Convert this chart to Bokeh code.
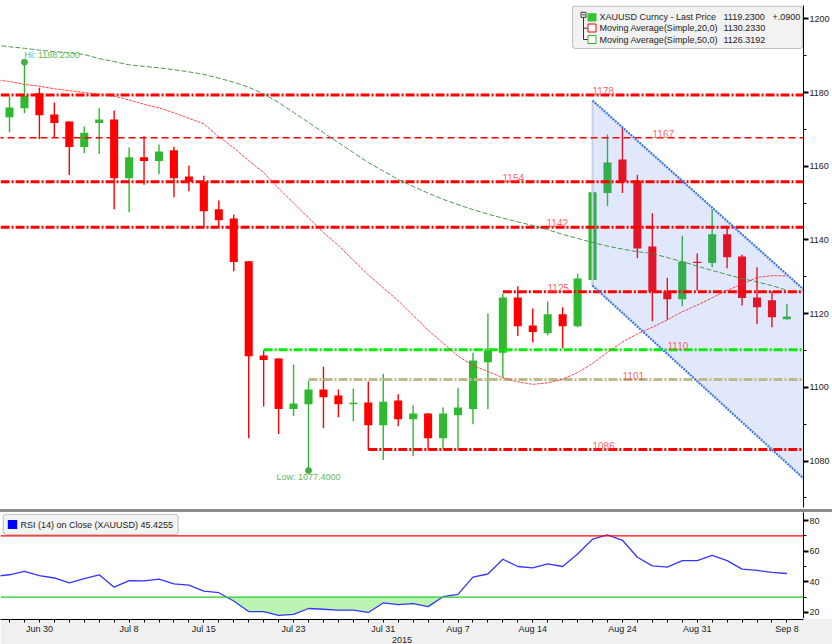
import numpy as np
from bokeh.plotting import figure
from bokeh.models import (Range1d, LinearAxis, FixedTicker, BoxAnnotation, Span, Div,
                          CustomJSTickFormatter)
from bokeh.layouts import column
from bokeh.embed import file_html
from bokeh.resources import INLINE
from bokeh.core.properties import value

# ---------------- data ----------------
days = ["Jun 25", "Jun 26", "Jun 29", "Jun 30", "Jul 1", "Jul 2", "Jul 3", "Jul 6", "Jul 7", "Jul 8",
        "Jul 9", "Jul 10", "Jul 13", "Jul 14", "Jul 15", "Jul 16", "Jul 17", "Jul 20", "Jul 21",
        "Jul 22", "Jul 23", "Jul 24", "Jul 27", "Jul 28", "Jul 29", "Jul 30", "Jul 31", "Aug 3",
        "Aug 4", "Aug 5", "Aug 6", "Aug 7", "Aug 10", "Aug 11", "Aug 12", "Aug 13", "Aug 14",
        "Aug 17", "Aug 18", "Aug 19", "Aug 20", "Aug 21", "Aug 24", "Aug 25", "Aug 26", "Aug 27",
        "Aug 28", "Aug 31", "Sep 1", "Sep 2", "Sep 3", "Sep 4", "Sep 7", "Sep 8"]
candle_days = days[1:]

opens = [1173.3, 1175.7, 1179.8, 1174.0, 1172.1, 1165.2, 1171.7, 1172.7, 1156.7, 1162.4,
         1161.4, 1164.3, 1157.2, 1155.8, 1148.3, 1145.8, 1134.2, 1108.6, 1107.8, 1094.1,
         1095.4, 1099.4, 1097.8, 1095.4, 1095.9, 1089.7, 1096.4, 1091.3, 1092.9, 1086.2,
         1092.4, 1094.1, 1106.8, 1109.4, 1124.4, 1116.8, 1114.7, 1119.8, 1116.6, 1129.1,
         1152.7, 1161.8, 1156.1, 1138.2, 1126.0, 1123.9, 1134.1, 1133.7, 1141.5, 1135.5,
         1124.4, 1123.6, 1118.5]
highs = [1178.9, 1188.23, 1181.3, 1177.3, 1172.2, 1170.8, 1175.7, 1175.1, 1165.1, 1168.1,
         1165.9, 1165.3, 1160.2, 1157.4, 1150.7, 1146.9, 1134.3, 1110.0, 1107.9, 1106.2,
         1101.8, 1105.6, 1099.4, 1099.7, 1101.6, 1103.7, 1098.1, 1095.1, 1093.0, 1094.5,
         1099.9, 1109.4, 1120.0, 1125.4, 1127.4, 1121.4, 1123.3, 1121.7, 1130.9, 1154.5,
         1168.6, 1170.4, 1157.7, 1147.2, 1129.7, 1141.1, 1136.3, 1148.3, 1143.3, 1136.0,
         1132.6, 1126.1, 1122.7]
lows = [1169.2, 1174.4, 1167.3, 1167.9, 1157.6, 1163.5, 1163.3, 1148.3, 1147.5, 1155.0,
        1157.8, 1151.6, 1153.2, 1143.4, 1143.4, 1131.5, 1086.2, 1094.8, 1087.3, 1092.2,
        1077.4, 1088.9, 1091.9, 1090.8, 1083.0, 1080.3, 1089.4, 1081.3, 1083.0, 1083.0,
        1083.0, 1090.0, 1094.1, 1102.5, 1113.9, 1112.2, 1114.1, 1110.6, 1116.3, 1127.2,
        1149.1, 1152.7, 1135.0, 1117.9, 1118.4, 1122.0, 1126.3, 1132.6, 1132.3, 1122.2,
        1117.2, 1116.3, 1118.4]
closes = [1175.9, 1179.1, 1173.8, 1171.7, 1165.2, 1169.1, 1172.7, 1156.7, 1162.4, 1161.4,
          1164.0, 1156.7, 1155.8, 1147.8, 1145.3, 1134.0, 1108.4, 1107.4, 1094.1, 1095.6,
          1099.4, 1097.3, 1095.4, 1095.8, 1089.7, 1096.1, 1091.3, 1092.9, 1086.2, 1092.9,
          1094.5, 1107.3, 1110.0, 1124.4, 1116.6, 1115.0, 1119.8, 1116.6, 1129.5, 1152.9,
          1161.0, 1155.8, 1137.7, 1126.0, 1123.9, 1134.1, 1133.9, 1141.5, 1135.3, 1124.2,
          1121.7, 1119.0, 1119.23]

ma20 = [1183.5, 1183.0, 1182.2, 1181.7, 1181.0, 1180.5, 1180.0, 1179.5, 1179.0, 1178.0,
        1176.8, 1175.8, 1174.5, 1173.0, 1171.5, 1168.0, 1165.0, 1161.5, 1158.3, 1154.0,
        1150.0, 1146.0, 1142.0, 1138.5, 1134.5, 1130.5, 1127.0, 1123.5, 1119.5, 1115.5,
        1112.0, 1108.5, 1105.9, 1104.3, 1102.6, 1101.5, 1100.8, 1101.2, 1102.2, 1104.0,
        1106.5, 1109.5, 1112.3, 1114.5, 1116.3, 1118.3, 1120.5, 1122.3, 1124.3, 1126.3,
        1128.0, 1129.8, 1130.3, 1130.233]
ma50 = [1192.9, 1192.4, 1192.0, 1191.5, 1191.1, 1190.8, 1190.3, 1189.2, 1188.4, 1187.5,
        1187.1, 1186.7, 1186.2, 1185.6, 1184.9, 1183.9, 1182.8, 1181.4, 1179.6, 1177.3,
        1174.6, 1171.9, 1169.1, 1166.4, 1163.7, 1161.0, 1158.7, 1156.4, 1154.5, 1152.7,
        1151.0, 1149.6, 1148.2, 1147.0, 1145.9, 1144.9, 1143.9, 1142.8, 1141.5, 1140.4,
        1139.3, 1138.3, 1137.5, 1136.8, 1136.3, 1135.2, 1134.1, 1132.9, 1131.7, 1130.6,
        1129.5, 1128.6, 1127.6, 1126.3192]
rsi = [43.6, 44.6, 46.8, 44.0, 42.5, 39.3, 42.1, 44.6, 36.5, 40.8,
       40.6, 41.8, 38.6, 37.8, 33.9, 32.9, 27.5, 20.6, 20.6, 18.1,
       18.7, 22.6, 22.1, 21.5, 21.5, 20.0, 26.2, 25.1, 25.8, 23.8,
       30.3, 31.8, 43.1, 45.1, 54.7, 50.0, 49.1, 51.7, 50.0, 58.1,
       67.8, 70.6, 67.1, 56.0, 50.4, 49.6, 53.8, 53.8, 57.3, 53.8,
       48.3, 47.4, 46.1, 45.4255]

tick_days = ["Jun 30", "Jul 8", "Jul 15", "Jul 23", "Jul 31", "Aug 7", "Aug 14", "Aug 24", "Aug 31", "Sep 8"]
year_label = "2015"

level_values = [1179.3, 1167.7, 1155.8, 1143.4, 1125.9, 1110.2, 1102.1, 1083.1]
level_labels = ["1178", "1167", "1154", "1142", "1125", "1110", "1101", "1086"]
level_start = [None, None, None, None, "Aug 12", "Jul 21", "Jul 24", "Jul 30"]
level_kind = ["dashdot", "dash", "dashdot", "dashdot", "dashdot", "dashdot", "dashdot", "dashdot"]
level_colors = ["#ff0000", "#ff0000", "#ff0000", "#ff0000", "#ff0000", "#08ec08", "#bdba8c", "#ff0000"]

channel_days = ["Aug 20", "Sep 8"]
channel_upper = [1177.8, 1130.6]
channel_lower = [1127.6, 1079.4]

hi_day, hi_value = "Jun 29", 1188.23
low_day, low_value = "Jul 24", 1077.40
last_price, last_change = 1119.2300, "+.0900"
ma20_last, ma50_last = 1130.2330, 1126.3192
rsi_last = 45.4255
legend_names = ["XAUUSD Curncy - Last Price", "Moving Average(Simple,20,0)", "Moving Average(Simple,50,0)"]

# ---------------- layout helpers (reference pixels -> data) ----------------
FONT = "Liberation Sans"
GREEN = "#30b930"
RED = "#ff0000"
day_index = {d: i for i, d in enumerate(days)}


def X(px):
    return 1 + (px - 9) / 14.95


def Y(py):
    return 1200 - (py - 18.3) / 3.685


def R(py):
    return 80 - (py - 520) / 1.533


XR = Range1d(X(0), X(803))

# ---------------- main price panel ----------------
p = figure(frame_width=803, frame_height=502, x_range=XR, y_range=Range1d(Y(507), Y(5)),
           x_axis_type=None, y_axis_type=None, toolbar_location=None, output_backend="svg",
           min_border_left=0, min_border_right=29, min_border_top=5, min_border_bottom=2,
           outline_line_color=None, background_fill_color="white", border_fill_color="white")

cx = np.array([day_index[d] for d in candle_days], dtype=float)
o = np.array(opens); h = np.array(highs); l = np.array(lows); c = np.array(closes)
cols = [GREEN if cc >= oo else RED for oo, cc in zip(o, c)]
top = np.maximum(o, c)
bot = np.minimum(np.minimum(o, c), top - 0.35)
p.segment(cx, h, cx, l, line_color=cols, line_width=1.4)
p.vbar(x=cx, width=0.54, top=top, bottom=bot, fill_color=cols, line_color=None)

# channel fill (drawn over candles, translucent)
c0, c1 = day_index[channel_days[0]], day_index[channel_days[1]]
su = (channel_upper[1] - channel_upper[0]) / (c1 - c0)
sl = (channel_lower[1] - channel_lower[0]) / (c1 - c0)
xe = 56.0
ue = channel_upper[0] + su * (xe - c0)
le = channel_lower[0] + sl * (xe - c0)
p.patch([c0, xe, xe, c0], [channel_upper[0], ue, le, channel_lower[0]],
        fill_color="#4f78f0", fill_alpha=0.17, line_color=None)
p.segment([c0], [channel_lower[0]], [c0], [channel_upper[0]], line_color="#c6d0e4", line_width=2)

# horizontal levels
label_px = [592, 652, 502, 546, 547, 667, 622, 592]
for val, lab, st, kind, colr, lx in zip(level_values, level_labels, level_start, level_kind,
                                        level_colors, label_px):
    xs = day_index[st] if st else X(0) - 1
    if kind == "dash":
        p.segment([xs], [val], [xe], [val], line_color=colr, line_width=1.5, line_dash="7 4")
    else:
        p.segment([xs], [val], [xe], [val], line_color=colr, line_width=3, line_dash="9 2 2 2")
for val, lab, lx in zip(level_values, level_labels, label_px):
    p.text(x=[X(lx)], y=[val], text=[lab], text_font=value(FONT), text_font_size="10px",
           text_color="#ff4545", text_alpha=0.85, text_baseline="bottom", text_align="left",
           y_offset=0)

# moving averages
xd = np.arange(len(days))
p.line(xd, ma20, line_color="#ff2a2a", line_width=1, line_dash="3 1", line_alpha=0.85)
p.line(xd, ma50, line_color="#3a8e3a", line_width=1, line_dash="5 2", line_alpha=0.9)

# channel border lines
p.line([c0, xe], [channel_upper[0], ue], line_color="#3f78e6", line_width=2.2, line_dash="2 1")
p.line([c0, xe], [channel_lower[0], le], line_color="#3f78e6", line_width=2.2, line_dash="2 1")

# Hi / Low annotations
p.scatter([day_index[hi_day]], [hi_value], size=6, color="#44b044")
p.text(x=[X(24)], y=[Y(54)], text=[f"Hi: {hi_value:.4f}"], text_font=value(FONT),
       text_font_size="9px", text_color="#62b862", text_baseline="middle", text_align="left")
p.scatter([day_index[low_day]], [low_value], size=6, color="#44b044")
p.text(x=[day_index[low_day]], y=[Y(476.5)], text=[f"Low: {low_value:.4f}"], text_font=value(FONT),
       text_font_size="9px", text_color="#62b862", text_baseline="middle", text_align="center")

# legend box (top right)
box = BoxAnnotation(left=X(572), right=X(802), top=Y(5.6), bottom=Y(48), fill_color="#f2f2f2",
                    fill_alpha=1, line_color="#4a4a4a", line_width=1.2)
try:
    box.border_radius = 3
except Exception:
    pass
p.add_layout(box)
rows_y = [Y(16.7), Y(27.7), Y(39.0)]
p.text(x=[X(599)] * 3, y=rows_y, text=legend_names, text_font=value(FONT), text_font_size="9px",
       text_color="#222222", text_baseline="middle", level="overlay")
p.text(x=[X(723)] * 3, y=rows_y, text=[f"{last_price:.4f}", f"{ma20_last:.4f}", f"{ma50_last:.4f}"],
       text_font=value(FONT), text_font_size="9px", text_color="#222222", text_baseline="middle",
       level="overlay")
p.text(x=[X(772)], y=[rows_y[0]], text=[last_change], text_font=value(FONT), text_font_size="9px",
       text_color="#222222", text_baseline="middle", level="overlay")
# icons
p.quad(left=[X(587)], right=[X(596)], top=[Y(12.7)], bottom=[Y(21)], fill_color="#33c433",
       line_color=None, level="overlay")
p.quad(left=[X(587.5), X(587.5)], right=[X(595.5), X(595.5)], top=[Y(23.5), Y(35)],
       bottom=[Y(31.5), Y(43)], fill_color="white", line_color=["#ee0000", "#33b033"],
       line_width=1, level="overlay")
p.quad(left=[X(580.5)], right=[X(585.5)], top=[Y(11.8)], bottom=[Y(16.8)], fill_color="white",
       line_color="#333333", line_width=1, level="overlay")
p.segment(x0=[X(581.5), X(583), X(583), X(583)], y0=[Y(14.3), Y(16.8), Y(27.7), Y(39)],
          x1=[X(584.5), X(583), X(587), X(587)], y1=[Y(14.3), Y(39), Y(27.7), Y(39)],
          line_color="#333333", line_width=1, level="overlay")


def style_axis(ax):
    ax.axis_line_color = "#000000"
    ax.major_label_text_font = FONT
    ax.major_label_text_font_size = "9px"
    ax.major_label_text_color = "#222222"


ya = LinearAxis(ticker=FixedTicker(ticks=list(range(1080, 1201, 20)),
                                   minor_ticks=list(range(1070, 1200, 20))))
style_axis(ya)
ya.major_tick_out = 5
ya.major_tick_in = 0
ya.major_tick_line_width = 2
ya.minor_tick_out = 3
ya.minor_tick_in = 0
ya.major_label_standoff = 1
p.add_layout(ya, "right")

# ---------------- separator ----------------
sep = Div(width=832, height=3, margin=0, styles={"background-color": "#8c8c8c"})

# ---------------- RSI panel ----------------
p2 = figure(frame_width=803, frame_height=106, x_range=XR, y_range=Range1d(R(618), R(512)),
            x_axis_type=None, y_axis_type=None, toolbar_location=None, output_backend="svg",
            min_border_left=0, min_border_right=29, min_border_top=0, min_border_bottom=0,
            outline_line_color=None, background_fill_color="white", border_fill_color="white")

xs_f = np.linspace(xd[0], xd[-1], 3000)
rs_f = np.interp(xs_f, xd, rsi)
p2.varea(x=xs_f, y1=np.minimum(rs_f, 30), y2=np.full_like(xs_f, 30), fill_color="#bcf4b3")
p2.add_layout(Span(location=70, dimension="width", line_color="#ff0000", line_width=1.3))
p2.add_layout(Span(location=30, dimension="width", line_color="#22cc22", line_width=1.3))
p2.line(xd, rsi, line_color="#3535ff", line_width=1.3)

rbox = BoxAnnotation(left=X(2.7), right=X(177.7), top=R(514), bottom=R(534), fill_color="#f4f4f4",
                     fill_alpha=1, line_color="#4a4a4a", line_width=1.2)
try:
    rbox.border_radius = 3
except Exception:
    pass
p2.add_layout(rbox)
p2.quad(left=[X(7.3)], right=[X(16.7)], top=[R(519.5)], bottom=[R(528.5)], fill_color="#0000ff",
        line_color=None, level="overlay")
p2.text(x=[X(20)], y=[R(524.5)], text=[f"RSI (14) on Close (XAUUSD) {rsi_last:.4f}"],
        text_font=value(FONT), text_font_size="9px", text_color="#222222", text_baseline="middle",
        level="overlay")

ra = LinearAxis(ticker=FixedTicker(ticks=[20, 40, 60, 80], minor_ticks=[30, 50, 70]))
style_axis(ra)
ra.major_tick_out = 5
ra.major_tick_in = 0
ra.major_tick_line_width = 2
ra.minor_tick_out = 3
ra.minor_tick_in = 0
ra.major_label_standoff = 1
p2.add_layout(ra, "right")

# ---------------- date axis strip (grey band) ----------------
p3 = figure(frame_width=803, frame_height=1, x_range=XR, y_range=Range1d(0, 1),
            x_axis_type=None, y_axis_type=None, toolbar_location=None, output_backend="svg",
            min_border_left=0, min_border_right=29, min_border_top=0, min_border_bottom=25,
            outline_line_color=None, background_fill_color="#f0f0f0", border_fill_color="#f0f0f0")

tick_pos = [day_index[d] for d in candle_days]
overrides = {i: (days[i] if days[i] in tick_days else "") for i in tick_pos}
xa = LinearAxis(ticker=FixedTicker(ticks=tick_pos, minor_ticks=[]), major_label_overrides=overrides)
style_axis(xa)
xa.major_tick_out = 3
xa.major_tick_in = 0
xa.major_label_standoff = 1

ya2 = LinearAxis(ticker=FixedTicker(ticks=[X(401.5)], minor_ticks=[]),
                 formatter=CustomJSTickFormatter(args=dict(lbl=year_label), code="return lbl;"))
style_axis(ya2)
ya2.axis_line_color = None
ya2.major_tick_line_color = None
ya2.major_tick_out = 0
ya2.major_tick_in = 0
ya2.major_label_standoff = 0
p3.add_layout(xa, "below")
p3.add_layout(ya2, "below")

layout = column(p, sep, p2, p3, spacing=0)
open("out.html", "w").write(file_html(layout, INLINE))
